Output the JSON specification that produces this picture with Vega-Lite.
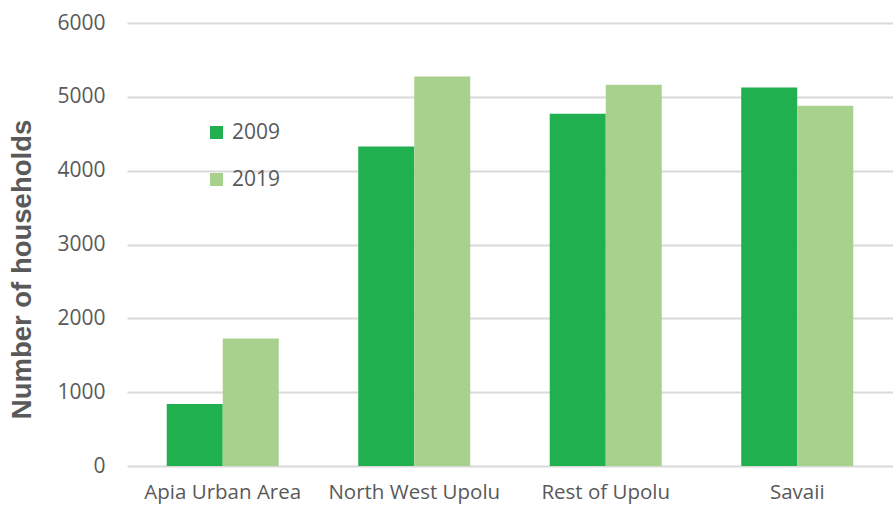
{
  "$schema": "https://vega.github.io/schema/vega-lite/v6.json",
  "width": 766,
  "height": 443,
  "autosize": "none",
  "padding": {"left": 127, "top": 23, "right": 0, "bottom": 42},
  "background": "white",
  "config": {"view": {"stroke": null}, "font": "Open Sans"},
  "data": {
    "values": [
      {"region": "Apia Urban Area", "year": "2009", "households": 839},
      {"region": "Apia Urban Area", "year": "2019", "households": 1726},
      {"region": "North West  Upolu", "year": "2009", "households": 4328},
      {"region": "North West  Upolu", "year": "2019", "households": 5274},
      {"region": "Rest of Upolu", "year": "2009", "households": 4770},
      {"region": "Rest of Upolu", "year": "2019", "households": 5162},
      {"region": "Savaii", "year": "2009", "households": 5126},
      {"region": "Savaii", "year": "2019", "households": 4878}
    ]
  },
  "mark": {"type": "bar"},
  "encoding": {
    "x": {
      "field": "region",
      "type": "nominal",
      "sort": null,
      "scale": {"paddingInner": 0.415, "paddingOuter": 0.2075},
      "axis": {
        "title": null,
        "labelAngle": 0,
        "labelFont": "Open Sans",
        "labelFontSize": 20.5,
        "labelColor": "#595959",
        "labelPadding": 16,
        "ticks": false,
        "domain": false
      }
    },
    "xOffset": {"field": "year", "type": "nominal"},
    "y": {
      "field": "households",
      "type": "quantitative",
      "scale": {"domain": [0, 6000]},
      "axis": {
        "values": [0, 1000, 2000, 3000, 4000, 5000, 6000],
        "title": "Number of households",
        "titleFont": "Liberation Sans",
        "titleFontSize": 27.5,
        "titleFontWeight": "bold",
        "titleColor": "#595959",
        "titleAngle": -90,
        "titleAlign": "center",
        "titleBaseline": "middle",
        "titleX": -105,
        "titleY": 246,
        "labelFont": "Open Sans",
        "labelFontSize": 21,
        "labelColor": "#595959",
        "labelPadding": 22,
        "ticks": false,
        "domain": false,
        "grid": true,
        "gridColor": "#d9d9d9",
        "gridWidth": 1.8,
        "format": "d"
      }
    },
    "color": {
      "field": "year",
      "type": "nominal",
      "scale": {"domain": ["2009", "2019"], "range": ["#21b04f", "#a9d18e"]},
      "legend": {
        "title": null,
        "orient": "none",
        "legendX": 79,
        "legendY": 99,
        "symbolType": "square",
        "symbolSize": 170,
        "symbolStrokeWidth": 0,
        "labelFont": "Open Sans",
        "labelFontSize": 21,
        "labelColor": "#595959",
        "labelOffset": 5,
        "rowPadding": 25
      }
    }
  }
}
